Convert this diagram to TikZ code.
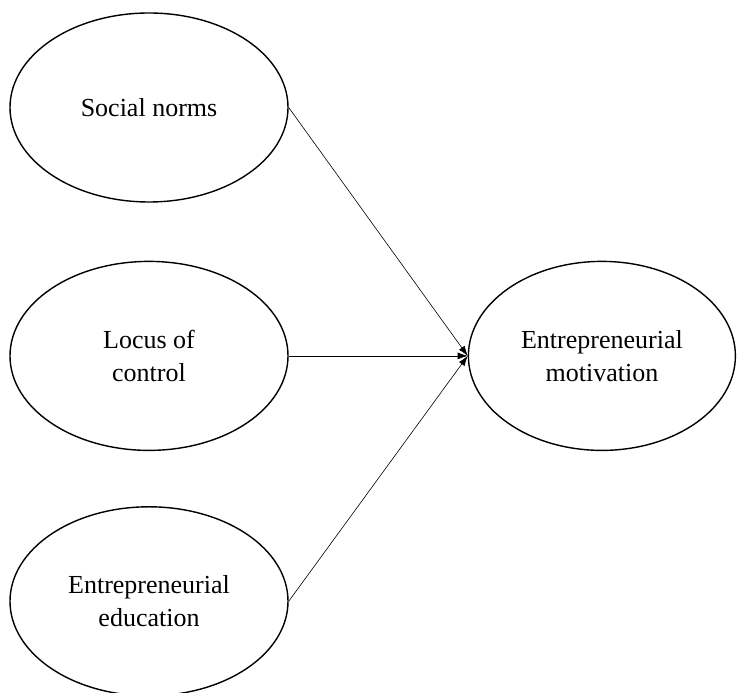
\documentclass[tikz,border=0pt]{standalone}
\usepackage{fontspec}
\setmainfont{Liberation Serif}
\usetikzlibrary{shapes.geometric,arrows.meta,positioning}

\begin{document}
\begin{tikzpicture}[x=1pt, y=1pt, node distance=58pt and 179pt,
    var/.style={ellipse, draw, line width=1.4pt, minimum width=278pt, minimum height=189pt, inner sep=0pt, align=center, font=\fontsize{26}{33}\selectfont},
    ar/.style={line width=0.6pt, -{Latex[length=10pt,width=7pt]}}]
    \useasboundingbox (0,0) rectangle (737,693);
    \node [var] (social) at (149,585.5) {Social norms};
    \node [var, below=of social] (locus) {Locus of\\control};
    \node [var, below=55pt of locus] (edu) {Entrepreneurial\\education};
    \node [var, minimum width=267pt, right=of locus] (motiv) {Entrepreneurial\\motivation};
    \draw [ar] (social.east) -- (motiv.west);
    \draw [ar] (locus.east) -- (motiv.west);
    \draw [ar] (edu.east) -- (motiv.west);
\end{tikzpicture}
\end{document}
